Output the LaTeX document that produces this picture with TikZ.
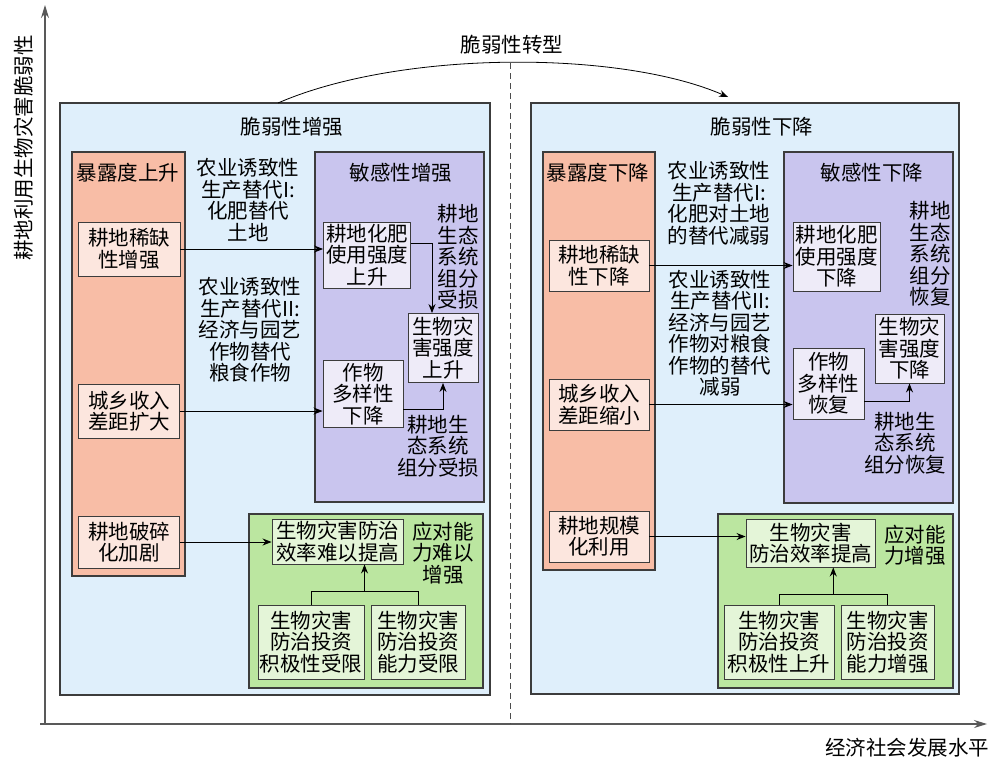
\documentclass[tikz,border=0pt]{standalone}
\usepackage{fontspec}
\setmainfont{Noto Sans CJK SC}
\usetikzlibrary{arrows.meta,positioning,calc}
\definecolor{vulnblue}{RGB}{223,239,251}
\definecolor{expo}{RGB}{248,189,166}
\definecolor{expolight}{RGB}{252,230,222}
\definecolor{sens}{RGB}{201,197,238}
\definecolor{senslight}{RGB}{238,235,248}
\definecolor{cope}{RGB}{187,230,160}
\definecolor{copelight}{RGB}{228,245,216}
\definecolor{edge}{RGB}{60,60,60}

\begin{document}
\begin{tikzpicture}[x=1pt, y=-1pt,
    txt/.style={font=\fontsize{20.5}{21.5}\selectfont, align=center, inner sep=0pt},
    inbox/.style={txt, draw=edge, line width=0.9pt},
    panel/.style={draw=edge, line width=1.1pt},
    arr/.style={-{Stealth[length=9pt, width=7pt]}, line width=0.9pt},
    axis/.style={-{Stealth[length=13pt, width=8pt]}, line width=1.3pt, draw=black!65}]
    \useasboundingbox (0,0) rectangle (1000,766);

    % Axes
    \coordinate (origin) at (45,724);
    \coordinate (ytip) at (45,5);
    \coordinate (xstart) at (40,724);
    \coordinate (xtip) at (987,724);
    \draw[axis] (origin) -- (ytip);
    \draw[axis] (xstart) -- (xtip);
    \node[txt, rotate=90] (ylab) at (24,148) {耕地利用生物灾害脆弱性};
    \node[txt] (xlab) at (907,748) {经济社会发展水平};

    % Dashed divider
    \coordinate (dtop) at (510,63);
    \draw[black!70, line width=0.8pt, dash pattern=on 6pt off 4pt] (dtop) -- (dtop |- origin);

    % Panels
    \draw[panel, fill=vulnblue] (60,103) rectangle (490,695);
    \draw[panel, fill=expo] (72,152) rectangle (185,576);
    \draw[panel, fill=sens] (315,152) rectangle (484,502);
    \draw[panel, fill=cope] (249,514) rectangle (483,688);
    \draw[panel, fill=vulnblue] (531,103) rectangle (959,694);
    \draw[panel, fill=expo] (543,152) rectangle (655,570);
    \draw[panel, fill=sens] (784,152) rectangle (953,503);
    \draw[panel, fill=cope] (718,514) rectangle (953,688);

    % Transition arc
    \node[txt] (shift) at (512,45) {脆弱性转型};
    \coordinate (tfrom) at (278,103);
    \coordinate (tto) at (728,97);
    \draw[arr, line width=0.8pt] (tfrom) .. controls (400,50) and (620,50) .. (tto);

    % Left: vulnerability rising
    \node[txt] (ltitle) at (292,127) {脆弱性增强};
    \node[txt] (lexpo) at (128,173) {暴露度上升};
    \node[txt] (lsens) at (401,173) {敏感性增强};
    \node[inbox, fill=expolight, minimum width=102, minimum height=54] (lscarce) at (129,249) {耕地稀缺\\性增强};
    \node[inbox, fill=expolight, minimum width=101, minimum height=54] (lincome) at (129,411) {城乡收入\\差距扩大};
    \node[inbox, fill=expolight, minimum width=101, minimum height=52] (lfrag) at (129,542) {耕地破碎\\化加剧};
    \node[inbox, fill=senslight, minimum width=87, minimum height=66] (lfert) at (367,255) {耕地化肥\\使用强度\\上升};
    \node[inbox, fill=senslight, minimum width=70, minimum height=69] (lpest) at (443,348) {生物灾\\害强度\\上升};
    \node[inbox, fill=senslight, minimum width=80, minimum height=67] (ldiv) at (363,394) {作物\\多样性\\下降};
    \node[inbox, fill=copelight, minimum width=131, minimum height=45] (leff) at (337.5,541.5) {生物灾害防治\\效率难以提高};
    \node[inbox, fill=copelight, minimum width=106, minimum height=74] (linv) at (311,642) {生物灾害\\防治投资\\积极性受限};
    \node[inbox, fill=copelight, minimum width=94, minimum height=74] (lcap) at (418,642) {生物灾害\\防治投资\\能力受限};
    \node[txt] (lsub1) at (248,200) {农业诱致性\\生产替代I:\\化肥替代\\土地};
    \node[txt] (lsub2) at (250,330) {农业诱致性\\生产替代II:\\经济与园艺\\作物替代\\粮食作物};
    \node[txt] (leco1) at (458,257) {耕地\\生态\\系统\\组分\\受损};
    \node[txt] (leco2) at (438,446) {耕地生\\态系统\\组分受损};
    \node[txt] (lcope) at (443,553) {应对能\\力难以\\增强};

    \draw[arr] (lscarce.east) -- (lscarce.east -| lfert.west);
    \draw[arr] ([yshift=12pt]lfert.east) -| ([xshift=-11pt]lpest.north);
    \draw[arr] (lincome.east) -- (lincome.east -| ldiv.west);
    \draw[arr] ([yshift=-15pt]ldiv.east) -| (lpest.south);
    \draw[arr] (lfrag.east) -- (lfrag.east -| leff.west);
    \draw[line width=0.9pt] (linv.north) -- ++(0,-13) coordinate (ljl) -| (lcap.north);
    \coordinate (ljm) at ($(ljl)!0.5!(ljl -| lcap.north)$);
    \draw[arr] (ljm) -- (ljm |- leff.south);

    % Right: vulnerability falling
    \node[txt] (rtitle) at (762,127) {脆弱性下降};
    \node[txt] (rexpo) at (598,173) {暴露度下降};
    \node[txt] (rsens) at (872,173) {敏感性下降};
    \node[inbox, fill=expolight, minimum width=100, minimum height=51] (rscarce) at (599,265.5) {耕地稀缺\\性下降};
    \node[inbox, fill=expolight, minimum width=100, minimum height=51] (rincome) at (599,404.5) {城乡收入\\差距缩小};
    \node[inbox, fill=expolight, minimum width=100, minimum height=51] (rscale) at (599,536.5) {耕地规模\\化利用};
    \node[inbox, fill=senslight, minimum width=87, minimum height=69] (rfert) at (836.5,256.5) {耕地化肥\\使用强度\\下降};
    \node[inbox, fill=senslight, minimum width=69, minimum height=69] (rpest) at (909.5,348.5) {生物灾\\害强度\\下降};
    \node[inbox, fill=senslight, minimum width=71, minimum height=71] (rdiv) at (828.5,383.5) {作物\\多样性\\恢复};
    \node[inbox, fill=copelight, minimum width=129, minimum height=48] (reff) at (810.5,543) {生物灾害\\防治效率提高};
    \node[inbox, fill=copelight, minimum width=110, minimum height=74] (rinv) at (779,642) {生物灾害\\防治投资\\积极性上升};
    \node[inbox, fill=copelight, minimum width=93, minimum height=74] (rcap) at (887.5,642) {生物灾害\\防治投资\\能力增强};
    \node[txt] (rsub1) at (719,203) {农业诱致性\\生产替代I:\\化肥对土地\\的替代减弱};
    \node[txt] (rsub2) at (720,333) {农业诱致性\\生产替代II:\\经济与园艺\\作物对粮食\\作物的替代\\减弱};
    \node[txt] (reco1) at (930,254) {耕地\\生态\\系统\\组分\\恢复};
    \node[txt] (reco2) at (905,443) {耕地生\\态系统\\组分恢复};
    \node[txt] (rcope) at (915,545) {应对能\\力增强};

    \draw[arr] (rscarce.east) -- (rscarce.east -| rfert.west);
    \draw[arr] (rincome.east) -- (rincome.east -| rdiv.west);
    \draw[arr] ([yshift=-17.5pt]rdiv.east) -| (rpest.south);
    \draw[arr] (rscale.east) -- (rscale.east -| reff.west);
    \draw[line width=0.9pt] (rinv.north) -- ++(0,-10) coordinate (rjl) -| (rcap.north);
    \coordinate (rjm) at ($(rjl)!0.5!(rjl -| rcap.north)$);
    \draw[arr] (rjm) -- (rjm |- reff.south);
\end{tikzpicture}
\end{document}
